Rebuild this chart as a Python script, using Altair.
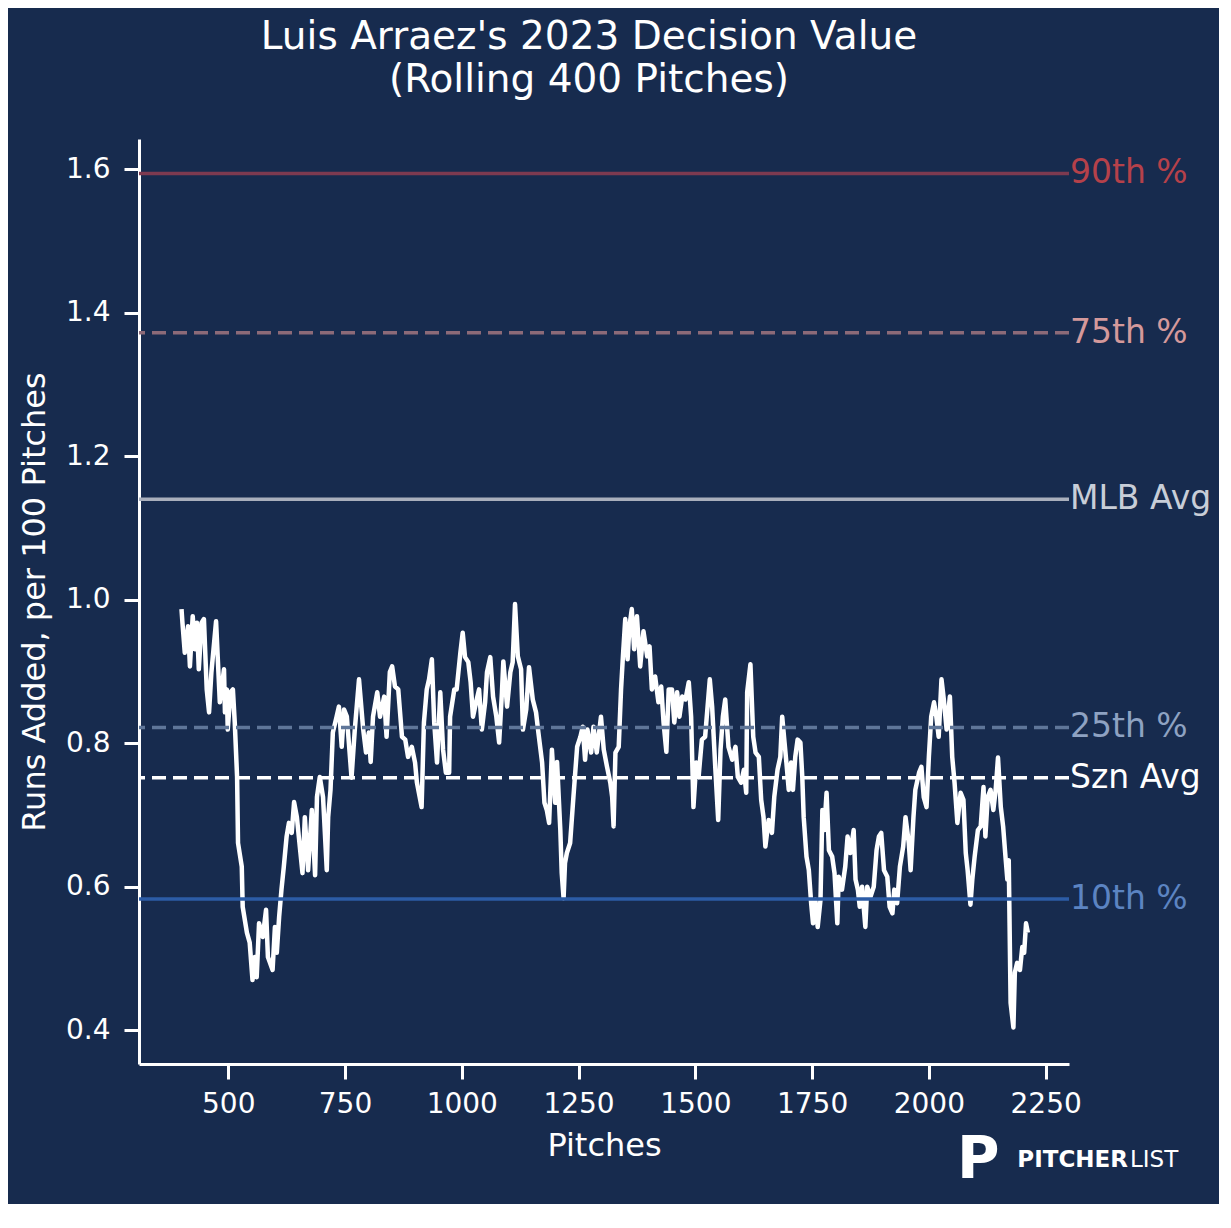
import altair as alt
import pandas as pd

# ---- data ----
pitches = [
    400, 402, 407, 414, 418, 424, 429, 433, 437, 443, 448, 454, 459, 464, 474, 482, 491, 493, 497, 499,
    505, 510, 514, 519, 521, 529, 531, 540, 546, 552, 557, 561, 566, 574, 581, 585, 595, 600, 604, 609,
    614, 619, 625, 630, 636, 641, 647, 654, 659, 664, 671, 679, 686, 690, 696, 703, 711, 714, 719, 724,
    732, 737, 743, 748, 754, 764, 771, 780, 789, 795, 801, 805, 810, 819, 825, 834, 839, 846, 851, 857,
    864, 872, 879, 885, 893, 900, 904, 914, 919, 925, 930, 936, 941, 947, 954, 960, 966, 973, 975, 984,
    989, 997, 1002, 1007, 1014, 1019, 1024, 1032, 1037, 1043, 1050, 1054, 1061, 1067, 1074, 1080, 1086, 1089, 1097, 1104,
    1109, 1114, 1120, 1127, 1131, 1138, 1144, 1152, 1159, 1164, 1172, 1177, 1182, 1187, 1193, 1200, 1204, 1211, 1214, 1218,
    1221, 1225, 1232, 1239, 1247, 1254, 1259, 1264, 1269, 1277, 1282, 1289, 1298, 1304, 1311, 1318, 1322, 1325, 1329, 1336,
    1341, 1345, 1350, 1355, 1359, 1364, 1369, 1375, 1382, 1389, 1397, 1402, 1407, 1414, 1421, 1427, 1432, 1438, 1443, 1450,
    1455, 1461, 1466, 1472, 1479, 1486, 1491, 1496, 1502, 1507, 1514, 1521, 1531, 1536, 1543, 1549, 1554, 1559, 1564, 1571,
    1579, 1586, 1591, 1598, 1604, 1609, 1611, 1618, 1624, 1629, 1636, 1641, 1646, 1650, 1657, 1664, 1669, 1676, 1682, 1686,
    1691, 1695, 1700, 1705, 1709, 1714, 1719, 1725, 1729, 1732, 1738, 1743, 1748, 1752, 1757, 1762, 1768, 1772, 1776, 1781,
    1786, 1793, 1798, 1804, 1807, 1814, 1821, 1826, 1832, 1839, 1843, 1848, 1852, 1857, 1864, 1868, 1875, 1882, 1888, 1893,
    1898, 1904, 1911, 1916, 1922, 1926, 1932, 1938, 1945, 1950, 1957, 1961, 1967, 1971, 1979, 1984, 1989, 1995, 2000, 2005,
    2011, 2016, 2021, 2027, 2032, 2038, 2045, 2050, 2055, 2061, 2068, 2074, 2079, 2083, 2089, 2093, 2098, 2105, 2111, 2117,
    2121, 2126, 2132, 2138, 2143, 2148, 2154, 2159, 2164, 2168, 2171, 2175, 2181, 2184, 2189, 2195, 2200, 2204, 2208, 2212,
]
decision_value = [
    0.987, 0.968, 0.926, 0.963, 0.907, 0.977, 0.931, 0.968, 0.903, 0.968, 0.973, 0.875, 0.843, 0.899, 0.970, 0.857, 0.903, 0.843, 0.875, 0.819,
    0.871, 0.875, 0.829, 0.753, 0.661, 0.628, 0.572, 0.536, 0.522, 0.470, 0.502, 0.474, 0.549, 0.530, 0.568, 0.502, 0.484, 0.544, 0.508, 0.558,
    0.596, 0.628, 0.670, 0.689, 0.675, 0.718, 0.697, 0.651, 0.619, 0.697, 0.623, 0.707, 0.616, 0.725, 0.753, 0.725, 0.623, 0.697, 0.735, 0.815,
    0.837, 0.851, 0.795, 0.847, 0.837, 0.752, 0.819, 0.889, 0.819, 0.787, 0.815, 0.774, 0.837, 0.871, 0.837, 0.865, 0.809, 0.899, 0.907, 0.879,
    0.875, 0.809, 0.805, 0.781, 0.795, 0.773, 0.745, 0.711, 0.829, 0.875, 0.889, 0.917, 0.829, 0.773, 0.871, 0.791, 0.759, 0.759, 0.837, 0.875,
    0.875, 0.926, 0.954, 0.920, 0.913, 0.885, 0.837, 0.861, 0.875, 0.819, 0.857, 0.899, 0.920, 0.865, 0.837, 0.801, 0.871, 0.914, 0.851, 0.899,
    0.913, 0.994, 0.921, 0.903, 0.819, 0.847, 0.906, 0.861, 0.843, 0.815, 0.773, 0.717, 0.707, 0.689, 0.791, 0.717, 0.774, 0.679, 0.619, 0.584,
    0.633, 0.647, 0.661, 0.725, 0.795, 0.809, 0.823, 0.777, 0.819, 0.787, 0.823, 0.787, 0.837, 0.791, 0.767, 0.745, 0.725, 0.684, 0.787, 0.795,
    0.875, 0.921, 0.973, 0.917, 0.963, 0.987, 0.931, 0.977, 0.907, 0.956, 0.921, 0.935, 0.875, 0.893, 0.857, 0.879, 0.829, 0.788, 0.875, 0.875,
    0.829, 0.871, 0.837, 0.865, 0.861, 0.885, 0.837, 0.711, 0.773, 0.753, 0.805, 0.809, 0.889, 0.851, 0.763, 0.693, 0.791, 0.837, 0.861, 0.795,
    0.777, 0.795, 0.753, 0.745, 0.763, 0.731, 0.871, 0.910, 0.809, 0.787, 0.781, 0.721, 0.697, 0.656, 0.693, 0.675, 0.725, 0.763, 0.781, 0.837,
    0.801, 0.773, 0.735, 0.773, 0.735, 0.781, 0.805, 0.801, 0.753, 0.697, 0.642, 0.623, 0.577, 0.549, 0.582, 0.544, 0.582, 0.707, 0.679, 0.731,
    0.651, 0.642, 0.619, 0.549, 0.614, 0.596, 0.628, 0.670, 0.647, 0.679, 0.610, 0.596, 0.572, 0.600, 0.544, 0.600, 0.586, 0.600, 0.651, 0.670,
    0.675, 0.623, 0.614, 0.572, 0.563, 0.596, 0.577, 0.628, 0.656, 0.697, 0.661, 0.623, 0.697, 0.735, 0.759, 0.767, 0.725, 0.711, 0.781, 0.837,
    0.857, 0.837, 0.809, 0.889, 0.861, 0.819, 0.865, 0.781, 0.745, 0.689, 0.731, 0.721, 0.647, 0.623, 0.575, 0.610, 0.642, 0.679, 0.684, 0.739,
    0.670, 0.725, 0.735, 0.707, 0.735, 0.780, 0.711, 0.684, 0.642, 0.610, 0.637, 0.438, 0.404, 0.480, 0.494, 0.484, 0.516, 0.508, 0.549, 0.536,
]

ref_labels = ["90th %", "75th %", "MLB Avg", "25th %", "Szn Avg", "10th %"]
ref_values = [1.594, 1.372, 1.140, 0.822, 0.752, 0.583]
ref_line_colors = ["#7d3a50", "#8c6a78", "#a9afbc", "#5f7699", "#ffffff", "#2c5ca6"]
ref_text_colors = ["#b5414a", "#d4999b", "#c8ced8", "#8ea2c2", "#ffffff", "#5c84c2"]
ref_dashed = [False, True, False, True, True, False]

x_ticks = [500, 750, 1000, 1250, 1500, 1750, 2000, 2250]
y_ticks = [0.4, 0.6, 0.8, 1.0, 1.2, 1.4, 1.6]

title_lines = ["Luis Arraez's 2023 Decision Value", "(Rolling 400 Pitches)"]
x_title = "Pitches"
y_title = "Runs Added, per 100 Pitches"

BG = "#172b4e"
FONT = "DejaVu Sans"
W, H = 930, 925

x_scale = alt.Scale(domain=[309, 2300], nice=False, zero=False)
y_scale = alt.Scale(domain=[0.353, 1.642], nice=False, zero=False)

line_df = pd.DataFrame({"pitch": pitches, "value": decision_value})

layers = []
for lbl, v, lc, dashed in zip(ref_labels, ref_values, ref_line_colors, ref_dashed):
    df = pd.DataFrame({"value": [v], "label": [lbl]})
    kw = dict(color=lc, strokeWidth=3.5)
    if dashed:
        kw["strokeDash"] = [14, 7]
    layers.append(
        alt.Chart(df).mark_rule(**kw).encode(y=alt.Y("value:Q", scale=y_scale))
    )

line = alt.Chart(line_df).mark_line(color="white", strokeWidth=4.5, strokeJoin="round").encode(
    x=alt.X("pitch:Q", scale=x_scale,
            axis=alt.Axis(values=x_ticks, format="d", title=x_title, labelPadding=11, titlePadding=12,
                          labelFlush=False, labelOverlap=False)),
    y=alt.Y("value:Q", scale=y_scale,
            axis=alt.Axis(values=y_ticks, format=".1f", title=y_title, labelPadding=14,
                          titlePadding=14, labelOverlap=False)),
)
layers.insert(0, line)

for lbl, v, tc in zip(ref_labels, ref_values, ref_text_colors):
    df = pd.DataFrame({"value": [v], "label": [lbl]})
    layers.append(
        alt.Chart(df).mark_text(align="left", baseline="middle", fontSize=33, font=FONT, color=tc).encode(
            x=alt.value(W + 1), y=alt.Y("value:Q", scale=y_scale), text="label:N"
        )
    )

# PitcherList logo
logo_icon = alt.Chart(pd.DataFrame({"t": ["P"]})).mark_text(
    align="left", baseline="alphabetic", fontSize=58, font=FONT, fontWeight="bold", color="white"
).encode(x=alt.value(818), y=alt.value(1039), text="t:N")
logo_a = alt.Chart(pd.DataFrame({"t": ["PITCHER"]})).mark_text(
    align="right", baseline="alphabetic", fontSize=23, font=FONT, fontWeight="bold", color="white"
).encode(x=alt.value(989), y=alt.value(1028), text="t:N")
logo_b = alt.Chart(pd.DataFrame({"t": ["LIST"]})).mark_text(
    align="left", baseline="alphabetic", fontSize=23, font=FONT, fontWeight="normal", color="white"
).encode(x=alt.value(991), y=alt.value(1028), text="t:N")
layers += [logo_icon, logo_a, logo_b]

chart = alt.layer(*layers).properties(
    width=W,
    height=H,
    background=BG,
    padding={"left": 131, "top": 131, "right": 150, "bottom": 140},
    autosize=alt.AutoSizeParams(type="none"),
    title=alt.TitleParams(
        text=title_lines, fontSize=39, font=FONT, fontWeight="normal", color="white",
        anchor="middle", dx=-15, offset=39, lineHeight=43,
    ),
).configure_view(strokeWidth=0).configure_axis(
    grid=False,
    domainColor="white",
    domainWidth=3,
    tickColor="white",
    tickWidth=3,
    tickSize=15,
    labelColor="white",
    labelFont=FONT,
    labelFontSize=28,
    titleColor="white",
    titleFont=FONT,
    titleFontSize=32,
    titleFontWeight="normal",
)

chart.save("out.html", embed_options={"renderer": "svg", "actions": False})
